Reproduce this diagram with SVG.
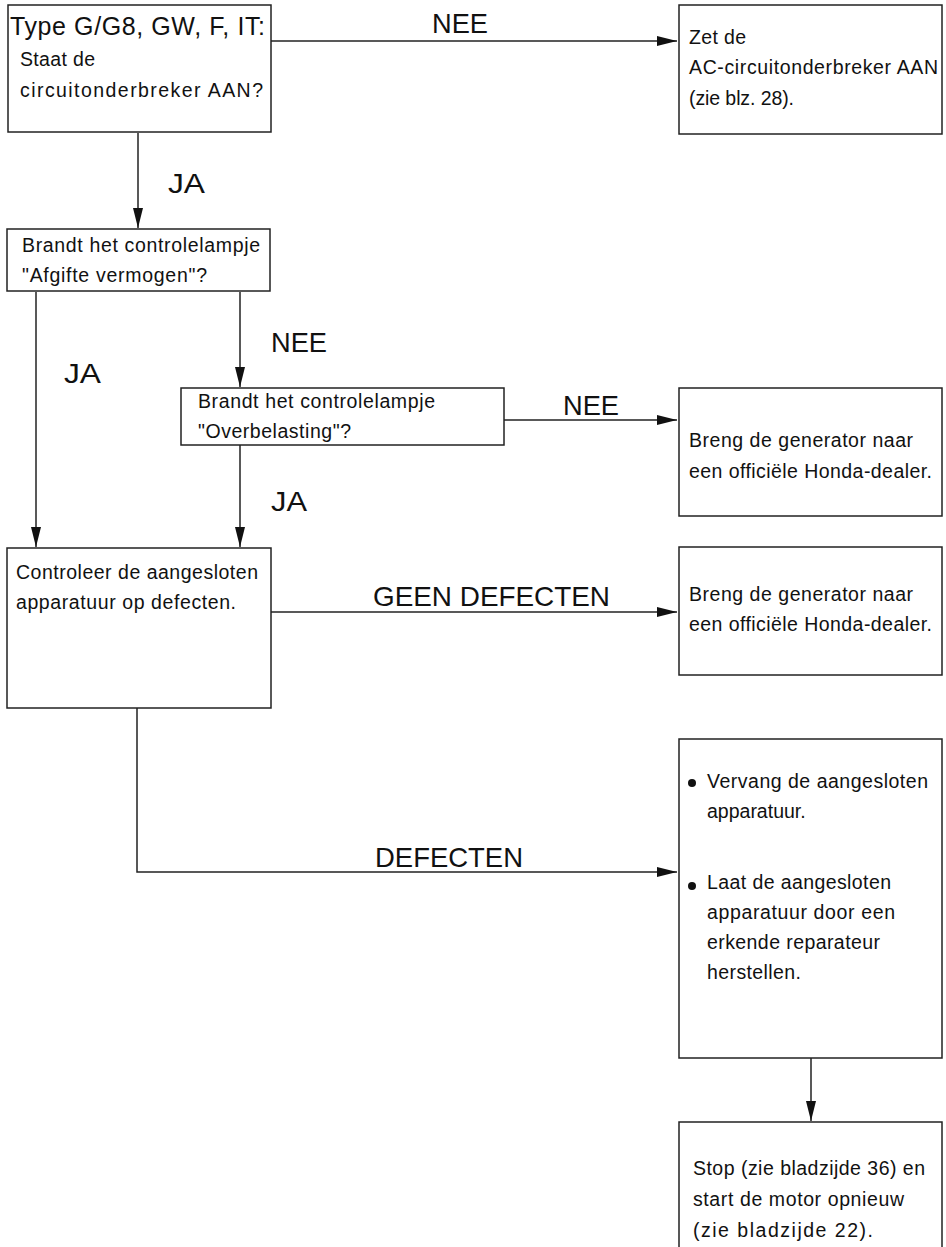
<svg xmlns="http://www.w3.org/2000/svg" width="946" height="1247" viewBox="0 0 946 1247">
<style>
.box{fill:#fff;stroke:#222;stroke-width:1.5}
.t{font-family:"Liberation Sans",Arial,sans-serif;font-size:19.5px;fill:#111}
.h{font-family:"Liberation Sans",Arial,sans-serif;font-size:25px;fill:#111}
.lbl{font-family:"Liberation Sans",Arial,sans-serif;font-size:28px;fill:#111}
.c{fill:none;stroke:#222;stroke-width:1.5}
</style>
<defs>
<marker id="ah" markerUnits="userSpaceOnUse" markerWidth="22" markerHeight="12" refX="20" refY="5" orient="auto">
<path d="M0,0 L20,5 L0,10 z" fill="#111"/>
</marker>
</defs>
<rect width="946" height="1247" fill="#fff"/>
<g id="connectors">
<path class="c" d="M271,41 H677" marker-end="url(#ah)"/>
<path class="c" d="M138,133 V228" marker-end="url(#ah)"/>
<path class="c" d="M36,292 V547" marker-end="url(#ah)"/>
<path class="c" d="M240,292 V387" marker-end="url(#ah)"/>
<path class="c" d="M504,420 H677" marker-end="url(#ah)"/>
<path class="c" d="M240,445 V547" marker-end="url(#ah)"/>
<path class="c" d="M271,612 H677" marker-end="url(#ah)"/>
<path class="c" d="M137,708 V872 H677" marker-end="url(#ah)"/>
<path class="c" d="M811,1058 V1121" marker-end="url(#ah)"/>
<text class="lbl" x="432" y="33" textLength="56" lengthAdjust="spacingAndGlyphs">NEE</text>
<text class="lbl" x="168" y="193" textLength="37" lengthAdjust="spacingAndGlyphs">JA</text>
<text class="lbl" x="271" y="352" textLength="56" lengthAdjust="spacingAndGlyphs">NEE</text>
<text class="lbl" x="64" y="383" textLength="37" lengthAdjust="spacingAndGlyphs">JA</text>
<text class="lbl" x="563" y="415" textLength="56" lengthAdjust="spacingAndGlyphs">NEE</text>
<text class="lbl" x="271" y="511" textLength="36" lengthAdjust="spacingAndGlyphs">JA</text>
<text class="lbl" x="373" y="606" textLength="237" lengthAdjust="spacingAndGlyphs">GEEN DEFECTEN</text>
<text class="lbl" x="375" y="867" textLength="148" lengthAdjust="spacingAndGlyphs">DEFECTEN</text>
</g>
<g id="n1">
<rect class="box" x="8" y="5" width="263" height="127"/>
<text class="h" x="10" y="35" textLength="255">Type G/G8, GW, F, IT:</text>
<text class="t" x="20" y="66" textLength="75">Staat de</text>
<text class="t" x="20" y="97" textLength="243">circuitonderbreker AAN?</text>
</g>
<g id="n2">
<rect class="box" x="679" y="5" width="263" height="129"/>
<text class="t" x="689" y="44" textLength="57">Zet de</text>
<text class="t" x="689" y="74" textLength="249">AC-circuitonderbreker AAN</text>
<text class="t" x="689" y="105" textLength="105">(zie blz. 28).</text>
</g>
<g id="n3">
<rect class="box" x="7" y="229" width="263" height="62"/>
<text class="t" x="22" y="252" textLength="238">Brandt het controlelampje</text>
<text class="t" x="22" y="282" textLength="185">"Afgifte vermogen"?</text>
</g>
<g id="n4">
<rect class="box" x="181" y="388" width="323" height="57"/>
<text class="t" x="198" y="408" textLength="237">Brandt het controlelampje</text>
<text class="t" x="198" y="438" textLength="153">"Overbelasting"?</text>
</g>
<g id="n5">
<rect class="box" x="679" y="388" width="263" height="128"/>
<text class="t" x="689" y="447" textLength="224">Breng de generator naar</text>
<text class="t" x="689" y="478" textLength="243">een officiële Honda-dealer.</text>
</g>
<g id="n6">
<rect class="box" x="7" y="548" width="264" height="160"/>
<text class="t" x="16" y="579" textLength="242">Controleer de aangesloten</text>
<text class="t" x="16" y="609" textLength="220">apparatuur op defecten.</text>
</g>
<g id="n7">
<rect class="box" x="679" y="547" width="263" height="128"/>
<text class="t" x="689" y="601" textLength="224">Breng de generator naar</text>
<text class="t" x="689" y="631" textLength="243">een officiële Honda-dealer.</text>
</g>
<g id="n8">
<rect class="box" x="679" y="739" width="263" height="319"/>
<circle cx="692" cy="783" r="4" fill="#111"/>
<text class="t" x="707" y="788" textLength="221">Vervang de aangesloten</text>
<text class="t" x="707" y="818">apparatuur.</text>
<circle cx="692" cy="886" r="4" fill="#111"/>
<text class="t" x="707" y="889" textLength="184">Laat de aangesloten</text>
<text class="t" x="707" y="919" textLength="188">apparatuur door een</text>
<text class="t" x="707" y="949" textLength="173">erkende reparateur</text>
<text class="t" x="707" y="979" textLength="94">herstellen.</text>
</g>
<g id="n9">
<rect class="box" x="679" y="1122" width="263" height="140"/>
<text class="t" x="693" y="1175" textLength="232">Stop (zie bladzijde 36) en</text>
<text class="t" x="693" y="1206" textLength="211">start de motor opnieuw</text>
<text class="t" x="693" y="1237" textLength="180">(zie bladzijde 22).</text>
</g>
</svg>
